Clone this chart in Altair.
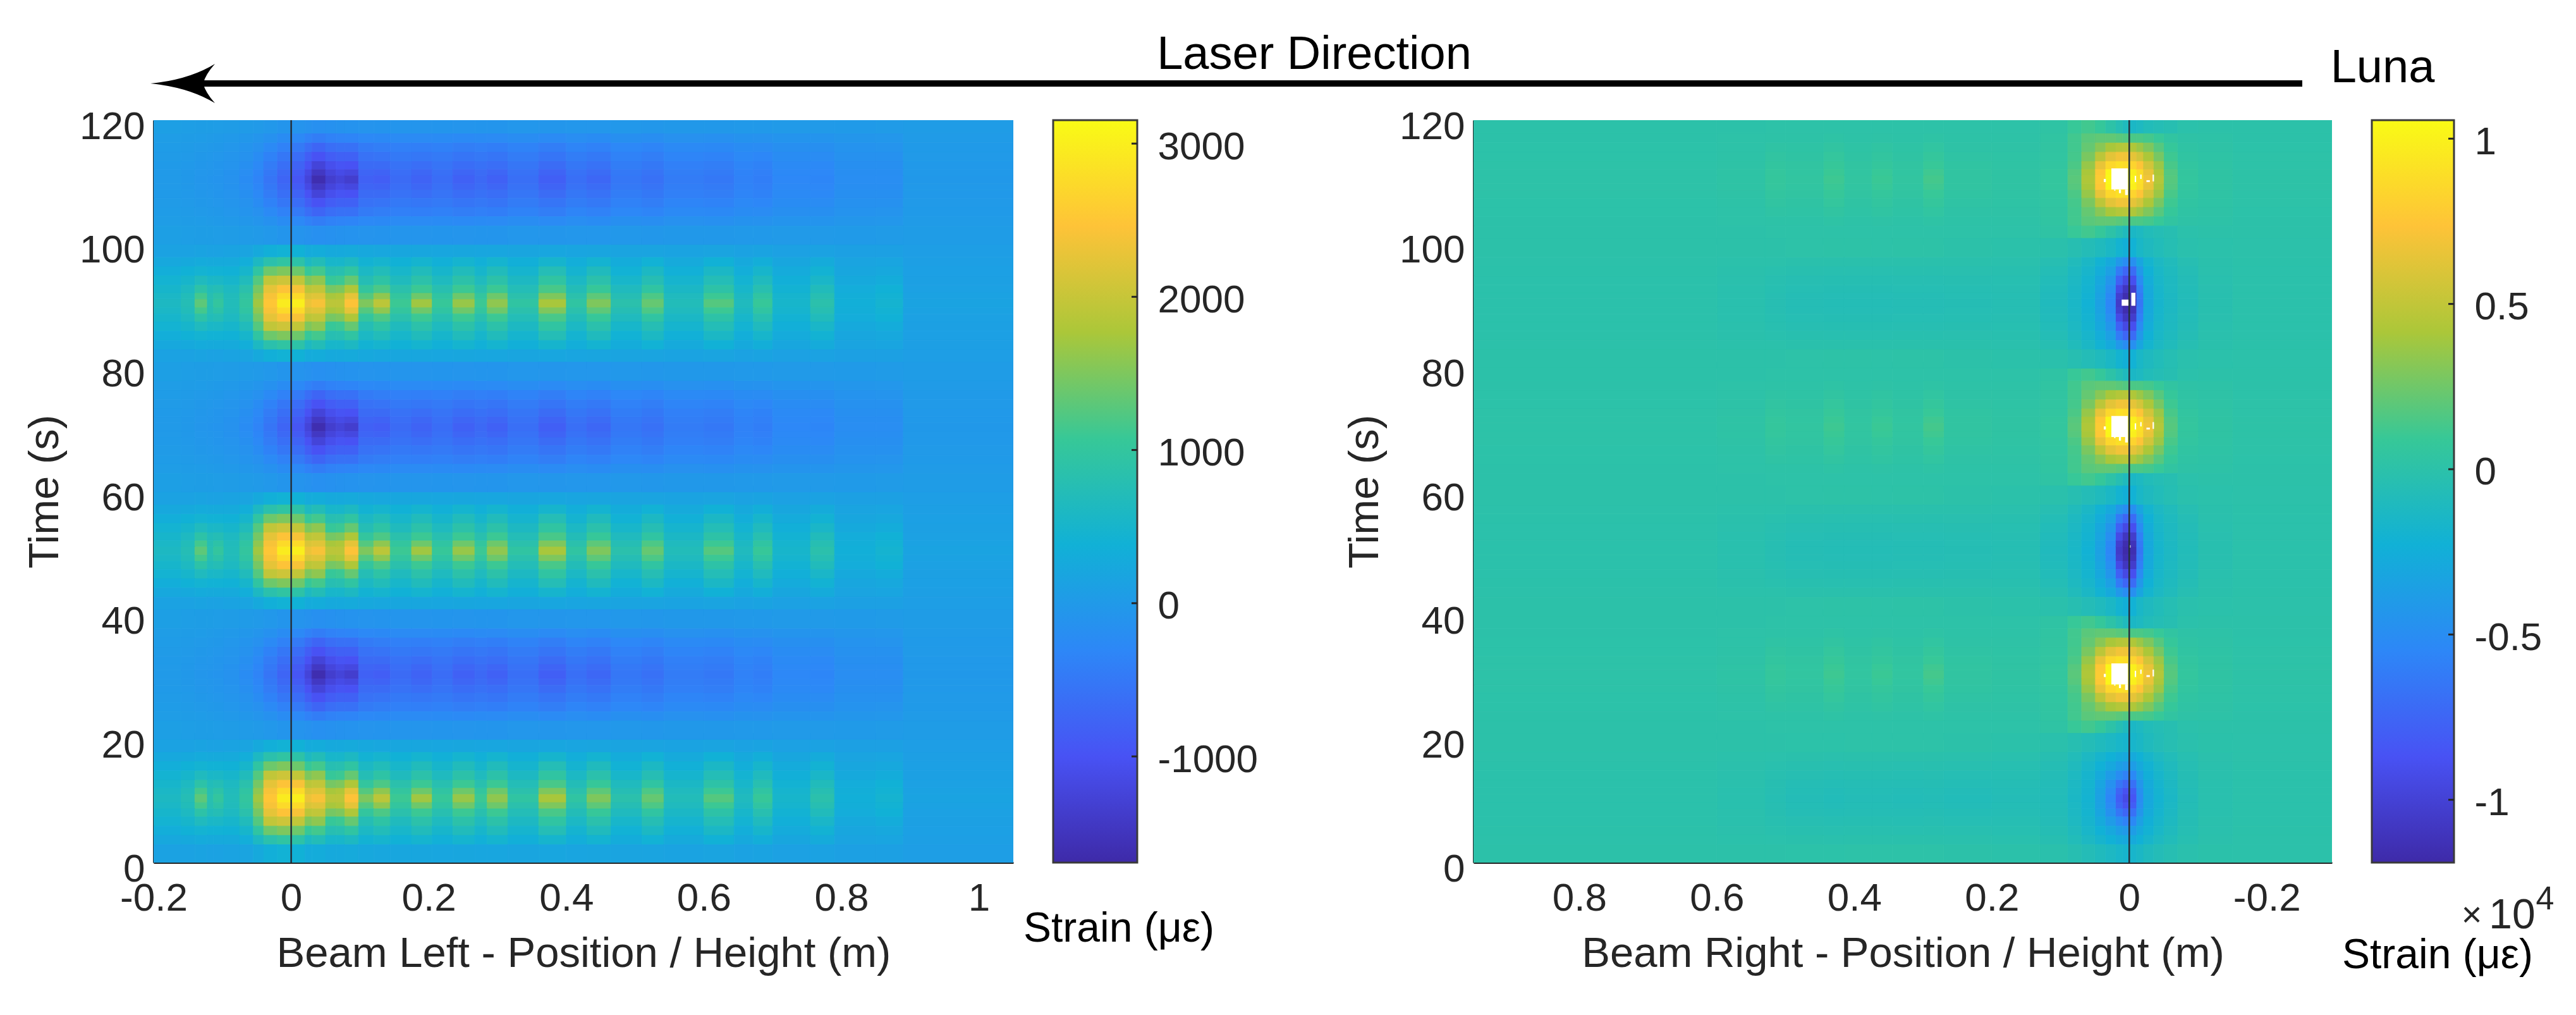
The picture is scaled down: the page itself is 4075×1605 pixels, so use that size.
import altair as alt

FONT = "Liberation Sans"
INK = "#262626"
PARULA = ["#3e2aa8", "#4852f4", "#2d87f7", "#11b1d6", "#37c897", "#abc739", "#fec338", "#f9fb15"]

# Half-widths (s) of the time bands either side of each event
band_edges = [0.7, 1.7, 3, 4.5, 6, 7.5, 10.5]

# ---------- left panel ----------
left_x_edges = [-0.2, -0.16, -0.14, -0.122, -0.113, -0.098, -0.075, -0.055, -0.04, -0.02, 0.0, 0.02, 0.03, 0.05,
                0.065, 0.078, 0.098, 0.12, 0.144, 0.175, 0.205, 0.235, 0.267, 0.285, 0.315, 0.36, 0.40, 0.43,
                0.465, 0.51, 0.542, 0.60, 0.644, 0.672, 0.70, 0.755, 0.79, 0.85, 0.89, 1.05]
left_peak_times = [10.4, 50.4, 90.4]
left_trough_times = [30.4, 70.4, 110.4]
left_peak = [
    [600,750,1300,800,1000,700,1000,1700,2500,2950,3000,2300,2400,1900,1900,2450,1500,1900,1100,1700,1050,1650,1100,1600,950,1750,950,1500,850,1350,700,1250,650,1050,500,850,350,450,150],
    [560,700,1150,780,900,680,950,1600,2400,2750,2750,2150,2200,1750,1800,2250,1250,1600,1000,1400,950,1400,1000,1400,850,1500,850,1300,760,1200,650,1100,600,950,470,780,340,420,130],
    [500,620,900,700,750,620,850,1450,2250,2450,2400,1900,1950,1450,1500,1800,1000,1200,850,1100,800,1100,820,1100,730,1180,720,1050,650,950,570,900,520,800,420,680,310,380,120],
    [430,500,650,550,560,500,680,1250,1950,2050,1950,1500,1600,1050,1100,1350,750,920,660,870,640,880,650,880,600,950,580,850,520,760,470,730,430,650,350,540,260,300,110],
    [330,380,430,400,400,380,500,950,1400,1500,1400,1050,1150,780,800,950,580,700,520,680,500,680,500,680,470,740,450,660,400,590,370,570,330,500,280,420,210,230,100],
    [230,260,280,270,270,270,330,600,850,950,900,620,720,520,520,600,420,470,380,460,370,460,370,460,350,480,330,440,300,400,270,380,250,340,210,290,170,180,80],
    [130,140,150,140,140,150,170,250,350,400,380,280,300,260,250,270,230,220,210,210,200,210,200,200,190,200,180,190,170,170,150,170,140,150,120,140,110,110,70],
]
left_trough = [
    [0,-20,-60,-70,-90,-130,-220,-350,-550,-750,-950,-1250,-1620,-1350,-1250,-1350,-800,-850,-680,-780,-650,-800,-700,-800,-620,-830,-620,-720,-520,-600,-450,-500,-380,-420,-300,-320,-200,-200,-20],
    [0,-20,-50,-60,-80,-120,-200,-320,-500,-700,-880,-1150,-1450,-1220,-1120,-1180,-750,-780,-640,-720,-610,-740,-660,-740,-580,-760,-580,-660,-490,-560,-430,-470,-360,-400,-280,-300,-190,-190,-15],
    [10,-10,-40,-50,-70,-100,-170,-280,-450,-620,-780,-1000,-1250,-1060,-980,-1000,-680,-680,-580,-640,-560,-650,-600,-640,-530,-660,-520,-580,-440,-500,-400,-430,-330,-370,-260,-280,-170,-170,-10],
    [20,0,-20,-30,-50,-80,-130,-220,-370,-520,-650,-840,-1000,-860,-800,-800,-580,-560,-490,-520,-480,-540,-510,-540,-450,-550,-440,-490,-380,-430,-340,-360,-280,-310,-220,-230,-140,-140,0],
    [30,20,0,-10,-20,-50,-90,-150,-260,-380,-480,-640,-750,-640,-600,-600,-460,-430,-400,-410,-390,-430,-400,-420,-360,-430,-340,-380,-300,-330,-260,-270,-220,-230,-170,-170,-110,-100,10],
    [50,40,30,20,10,-10,-40,-80,-140,-220,-280,-380,-440,-380,-350,-340,-280,-270,-250,-250,-240,-260,-240,-250,-210,-250,-200,-220,-170,-190,-150,-160,-120,-130,-90,-90,-60,-50,25],
    [80,70,60,60,50,40,20,0,-30,-70,-100,-130,-160,-140,-120,-110,-100,-90,-80,-80,-70,-80,-70,-70,-50,-60,-50,-50,-30,-40,-20,-20,-10,-10,0,0,10,20,40],
]

# ---------- right panel ----------
right_x_edges = [-0.295, -0.15, -0.10, -0.07, -0.05, -0.035, -0.02, -0.01, 0.0, 0.01, 0.02, 0.035, 0.05, 0.07, 0.09,
                 0.13, 0.20, 0.27, 0.30, 0.345, 0.375, 0.415, 0.445, 0.50, 0.53, 0.60, 0.954]
right_hot_times = [30.4, 70.4, 110.4]
right_strong_times = [50.4, 90.4]
right_weak_times = [10.4]
right_hot = [
    [100,300,600,1800,4500,6800,9000,10200,10500,10500,10400,7800,4300,1900,600,300,400,1300,500,1000,500,1100,500,700,200,50],
    [100,300,560,1700,4200,6500,8800,9900,10300,10500,10200,7600,4100,1800,600,300,400,1150,450,900,450,1000,450,650,200,50],
    [80,250,480,1400,3700,5600,7400,8300,8800,9000,8500,6500,3600,1500,500,250,350,900,400,700,400,850,400,550,150,50],
    [60,200,380,1100,2700,4200,5700,6400,6800,6900,6300,4800,2800,1300,450,200,250,700,300,550,300,650,300,400,120,40],
    [40,150,280,800,1800,2900,3700,4300,4600,4500,4100,3200,2200,1200,400,150,150,450,200,350,200,400,200,250,80,30],
    [20,100,150,400,900,1300,1500,1500,1700,1900,2100,2100,1900,1200,350,100,100,200,100,150,100,200,100,100,50,20],
    [0,0,-100,-400,-600,-800,-1200,-1400,-1000,-500,100,800,1200,900,250,50,50,50,50,50,50,50,50,50,20,0],
]
right_strong = [
    [-100,-300,-800,-1300,-1800,-3000,-6500,-11500,-11800,-10500,-5500,-3500,-2200,-1500,-1000,-500,-550,-600,-600,-650,-650,-650,-600,-450,-250,-80],
    [-100,-300,-780,-1250,-1750,-2900,-6300,-11200,-11600,-10200,-5300,-3400,-2100,-1450,-950,-480,-530,-580,-580,-620,-620,-620,-580,-430,-240,-80],
    [-100,-280,-750,-1200,-1700,-2800,-5900,-10400,-10900,-9300,-4900,-3200,-2000,-1400,-900,-440,-480,-520,-520,-560,-560,-560,-520,-390,-220,-70],
    [-80,-250,-680,-1150,-1600,-2600,-5100,-8900,-9400,-7800,-4300,-3000,-1900,-1300,-800,-380,-400,-430,-430,-460,-460,-460,-430,-320,-180,-60],
    [-60,-200,-600,-1050,-1500,-2300,-4200,-7100,-7500,-6200,-3600,-2600,-1700,-1150,-650,-300,-280,-300,-300,-320,-320,-320,-300,-220,-130,-40],
    [-40,-150,-450,-900,-1300,-1900,-3200,-4800,-5000,-4200,-2900,-2100,-1400,-900,-450,-200,-130,-130,-130,-140,-140,-150,-130,-100,-60,-20],
    [-20,-60,-200,-500,-800,-1100,-1500,-2200,-2400,-2000,-1400,-1000,-700,-400,-150,-50,0,100,100,50,100,100,50,20,0,0],
]
right_weak = [
    [-80,-250,-700,-1400,-2000,-3000,-5000,-8500,-9300,-8000,-5500,-3500,-2000,-1400,-800,-700,-800,-700,-750,-700,-700,-800,-700,-500,-250,-100],
    [-80,-250,-650,-1350,-1950,-2900,-4800,-8000,-8800,-7600,-5200,-3400,-1950,-1350,-780,-650,-750,-650,-700,-650,-650,-750,-650,-450,-230,-100],
    [-70,-230,-600,-1250,-1850,-2700,-4300,-6800,-7500,-6500,-4700,-3200,-1900,-1300,-750,-600,-650,-560,-600,-580,-580,-650,-580,-400,-200,-90],
    [-60,-200,-550,-1150,-1700,-2400,-3600,-5300,-5800,-5000,-3900,-2800,-1800,-1200,-700,-500,-520,-450,-480,-460,-460,-500,-450,-320,-170,-70],
    [-50,-170,-480,-1000,-1500,-2100,-2900,-3800,-4100,-3700,-3000,-2300,-1600,-1000,-550,-380,-350,-300,-320,-300,-300,-340,-300,-220,-120,-50],
    [-30,-120,-380,-800,-1200,-1700,-2300,-2800,-3000,-2700,-2300,-1800,-1300,-800,-400,-220,-180,-150,-150,-150,-150,-170,-150,-110,-70,-30],
    [-10,-50,-200,-450,-700,-1000,-1400,-1700,-1800,-1600,-1300,-1000,-700,-400,-150,-50,0,50,50,50,50,30,30,10,0,0],
]

# Over-range cells (white) around the t = 110 hot spot: x1, x2, t1, t2
white_hot = [(0.002,0.026,108.8,112.2),(0.002,0.006,107.9,108.8),(0.012,0.015,108.2,108.8),(0.020,0.022,108.6,108.8),
             (0.034,0.037,110.0,110.5),(-0.010,-0.008,110.0,111.0),(-0.018,-0.016,110.5,111.2),
             (-0.036,-0.034,110.1,111.2),(-0.030,-0.025,110.0,110.3)]
white_hot_shift = [0, -40, -80]
white_cold = [(0.0,0.011,90.0,91.0),(-0.009,-0.003,90.0,92.1),(-0.002,0.001,50.9,51.3)]

left_cbar = (-1693, 3153)
right_cbar = (-1.19, 1.056)
left_ticks = [-1000, 0, 1000, 2000, 3000]
right_ticks = [-1, -0.5, 0, 0.5, 1]
left_xticks = [-0.2, 0, 0.2, 0.4, 0.6, 0.8, 1]
right_xticks = [0.8, 0.6, 0.4, 0.2, 0, -0.2]
yticks = [0, 20, 40, 60, 80, 100, 120]


def cells(x_edges, groups):
    out = []
    for times, rows in groups:
        for c in times:
            for i, row in enumerate(rows):
                spans = [(c - band_edges[0], c + band_edges[0])] if i == 0 else [
                    (c - band_edges[i], c - band_edges[i - 1]), (c + band_edges[i - 1], c + band_edges[i])]
                for t1, t2 in spans:
                    for j, v in enumerate(row):
                        out.append({"x": x_edges[j], "x2": x_edges[j + 1], "t": t1, "t2": t2, "v": v})
    return out


def color_scale(lo, hi):
    return alt.Scale(domain=[lo + (hi - lo) * i / 7 for i in range(8)], range=PARULA, clamp=True, interpolate="rgb")


def heat(values, xdom, xticks, title, lo, hi, extra=None, w=1360):
    xs = alt.Scale(domain=xdom, nice=False, zero=False)
    ys = alt.Scale(domain=[0, 120], nice=False, zero=False)
    cs = color_scale(lo, hi)
    x_axis = alt.Axis(title=title, values=xticks, ticks=False, grid=False, labelPadding=26, titlePadding=24,
                      labelExpr="'' + datum.value", labelFlush=False, labelOverlap=False)
    y_axis = alt.Axis(title="Time (s)", values=yticks, ticks=False, grid=False, labelPadding=14, titlePadding=20,
                      labelOffset=10, labelFlush=False, labelOverlap=False)
    base = alt.Chart(alt.Data(values=values)).mark_rect(strokeWidth=0.8, clip=True).encode(
        x=alt.X("x:Q", scale=xs, axis=x_axis), x2="x2:Q",
        y=alt.Y("t:Q", scale=ys, axis=y_axis), y2="t2:Q",
        fill=alt.Fill("v:Q", scale=cs, legend=None),
        stroke=alt.Stroke("v:Q", scale=cs, legend=None),
    )
    layers = [base]
    if extra:
        layers.append(alt.Chart(alt.Data(values=extra)).mark_rect(color="white", clip=True).encode(
            x=alt.X("x:Q", scale=xs), x2="x2:Q", y=alt.Y("t:Q", scale=ys), y2="t2:Q"))
    layers.append(alt.Chart(alt.Data(values=[{"x": 0}])).mark_rule(color="#24303c", strokeWidth=2.5).encode(
        x=alt.X("x:Q", scale=xs)))
    return alt.layer(*layers).properties(width=w, height=1174)


def text_layer(txt, x, y, size, color="black", align="center"):
    return alt.Chart(alt.Data(values=[{}])).mark_text(
        text=txt, font=FONT, fontSize=size, color=color, align=align, baseline="middle"
    ).encode(x=alt.value(x), y=alt.value(y))


def colorbar(lo, hi, ticks, w, notes):
    stops = [alt.GradientStop(offset=i / 7, color=c) for i, c in enumerate(PARULA)]
    grad = alt.LinearGradient(gradient="linear", stops=stops, x1=0, x2=0, y1=1, y2=0)
    bar = alt.Chart(alt.Data(values=[{}])).mark_rect(fill=grad, stroke="#3a3a3a", strokeWidth=3).encode(
        x=alt.value(0), x2=alt.value(w), y=alt.value(0), y2=alt.value(1174))
    tick = alt.Chart(alt.Data(values=[{"v": v} for v in ticks])).mark_rule(color=INK, strokeWidth=3).encode(
        y=alt.Y("v:Q", scale=alt.Scale(domain=[lo, hi], nice=False, zero=False),
                axis=alt.Axis(orient="right", title=None, values=ticks, ticks=False, domain=False, grid=False,
                              labelPadding=32, labelOffset=5, labelExpr="'' + datum.value", labelFlush=False,
                              labelOverlap=False)),
        x=alt.value(w - 9), x2=alt.value(w))
    return alt.layer(bar, tick, *notes).properties(width=w, height=1174)


left_values = cells(left_x_edges, [(left_peak_times, left_peak), (left_trough_times, left_trough)])
right_values = cells(right_x_edges, [(right_hot_times, right_hot), (right_strong_times, right_strong),
                                     (right_weak_times, right_weak)])
white_cells = [{"x": a, "x2": b, "t": c + s, "t2": d + s} for s in white_hot_shift for a, b, c, d in white_hot]
white_cells += [{"x": a, "x2": b, "t": c, "t2": d} for a, b, c, d in white_cold]

h1 = heat(left_values, [-0.2, 1.05], left_xticks, "Beam Left - Position / Height (m)", *left_cbar)
h2 = heat(right_values, [0.954, -0.295], right_xticks, "Beam Right - Position / Height (m)",
          right_cbar[0] * 1e4, right_cbar[1] * 1e4, extra=white_cells, w=1358)
b1 = colorbar(*left_cbar, left_ticks, 133, [text_layer("Strain (\u03bc\u03b5)", 104, 1279, 66)])
b2 = colorbar(*right_cbar, right_ticks, 130, [
    text_layer("\u00d7", 158, 1258, 56, color=INK),
    text_layer("10", 222, 1258, 66, color=INK),
    text_layer("4", 274, 1232, 52, color=INK),
    text_layer("Strain (\u03bc\u03b5)", 104, 1321, 66),
])
spacer = alt.Chart(alt.Data(values=[{}])).mark_text(text=" ").encode(x=alt.value(0), y=alt.value(0)).properties(
    width=406, height=1174)

head = "M-1,0 Q0.2,-0.12 1,-0.61 Q0.72,-0.3 0.63,0 Q0.72,0.3 1,0.61 Q0.2,0.12 -1,0 Z"
TOP_H = 181
top = alt.layer(
    alt.Chart(alt.Data(values=[{}])).mark_rule(color="black", strokeWidth=10).encode(
        x=alt.value(70), x2=alt.value(3399), y=alt.value(123)),
    alt.Chart(alt.Data(values=[{}])).mark_point(shape=head, size=10404, filled=True, color="black", opacity=1).encode(
        x=alt.value(46), y=alt.value(123)),
    text_layer("Laser Direction", 1836, 78, 74),
    text_layer("Luna", 3526, 99, 74),
).properties(width=3638, height=TOP_H)

row = alt.hconcat(h1, b1, spacer, h2, b2, spacing=63, bounds="flush").resolve_scale(
    fill="independent", stroke="independent", x="independent", y="independent")
chart = alt.vconcat(top, row, spacing=0, bounds="flush").resolve_scale(
    fill="independent", stroke="independent", x="independent", y="independent"
).properties(
    padding={"left": 29, "top": 0, "right": 5, "bottom": 5}
).configure_view(stroke="transparent").configure_axis(
    labelFont=FONT, titleFont=FONT, labelFontSize=62, titleFontSize=67, labelColor=INK, titleColor=INK,
    titleFontWeight="normal", domainColor=INK, domainWidth=3,
)

chart.save("out.html", embed_options={"renderer": "svg", "actions": False})
